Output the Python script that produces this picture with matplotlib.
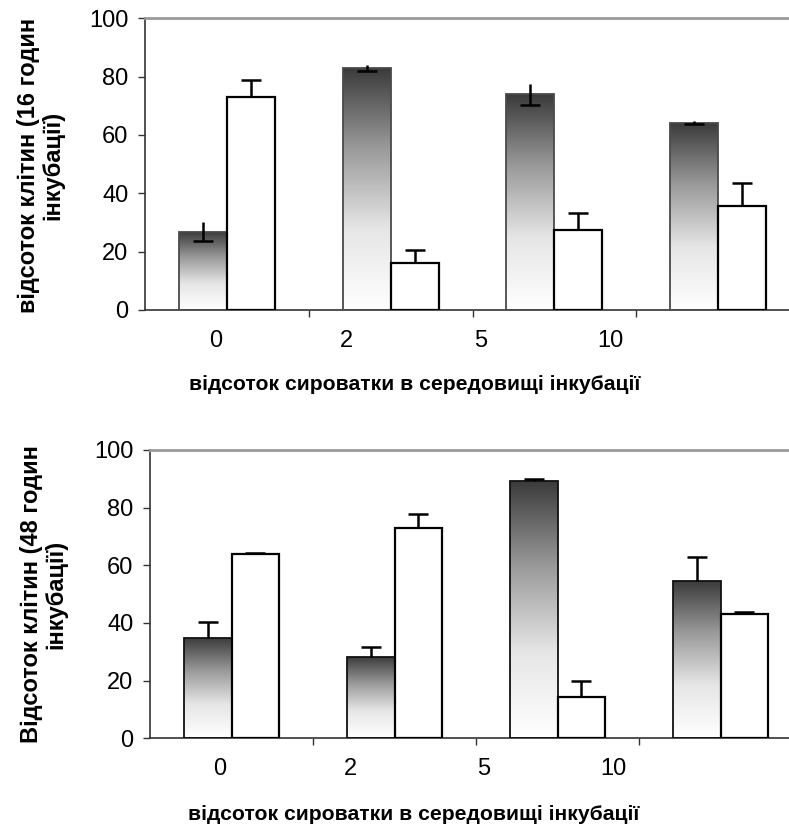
import numpy as np
import matplotlib
matplotlib.use("Agg")
import matplotlib.pyplot as plt
from matplotlib.colors import LinearSegmentedColormap

plt.rcParams['font.family'] = ['Liberation Sans', 'DejaVu Sans']

# ---- data ----
categories = ["0", "2", "5", "10"]
label_pos = [0.43, 1.23, 2.05, 2.84]   # where the category labels sit (group units)

top_dark = [26.8, 83.1, 73.9, 64.2]
top_dark_err = [3.2, 1.0, 3.6, 0.6]
top_white = [73.1, 16.2, 27.4, 35.8]
top_white_err = [5.8, 4.3, 5.7, 7.7]

bot_dark = [34.7, 28.3, 89.2, 54.6]
bot_dark_err = [5.7, 3.5, 0.6, 8.4]
bot_white = [63.8, 73.0, 14.2, 43.2]
bot_white_err = [0.6, 4.8, 5.7, 0.6]

ylabel_top = "відсоток клітин (16 годин\nінкубації)"
ylabel_bot = "Відсоток клітин (48 годин\nінкубації)"
xlabel = "відсоток сироватки в середовищі інкубації"
yticks = [0, 20, 40, 60, 80, 100]

W, H = 789, 825
fig = plt.figure(figsize=(W / 100, H / 100), dpi=100)

cmap = LinearSegmentedColormap.from_list("g", ["#ffffff", "#e6e6e6", "#9a9a9a", "#3a3a3a"])
grad = np.linspace(0, 1, 256).reshape(-1, 1)


def panel(rect, dark, dark_err, white, white_err, ylab, dark_edge, dark_cap_low,
          ylab_xy, xlab_xy):
    ax = fig.add_axes(rect)
    x = np.arange(len(categories)) + 0.5
    bw = 0.293
    xd = x - bw / 2
    xw = x + bw / 2
    bars = ax.bar(xd, dark, width=bw, facecolor="none", edgecolor=dark_edge,
                  linewidth=1.3, zorder=3)
    for b in bars:
        x0 = b.get_x()
        h = b.get_height()
        im = ax.imshow(grad, extent=[x0, x0 + b.get_width(), 0, h], origin="lower",
                       aspect="auto", cmap=cmap, zorder=2, interpolation="bilinear")
        im.set_clip_path(b)
    ax.bar(xw, white, width=bw, facecolor="white", edgecolor="black",
           linewidth=1.6, zorder=3)

    # error bars
    dark = np.array(dark); dark_err = np.array(dark_err)
    white = np.array(white); white_err = np.array(white_err)
    if dark_cap_low:
        ax.vlines(xd, dark - dark_err, dark + dark_err, color="black", lw=1.8, zorder=4)
        ax.plot(xd, dark - dark_err, ls="none", marker="_", ms=15, mew=1.8,
                color="black", zorder=4)
    else:
        ax.vlines(xd, dark, dark + dark_err, color="black", lw=1.8, zorder=4)
        ax.plot(xd, dark + dark_err, ls="none", marker="_", ms=15, mew=1.8,
                color="black", zorder=4)
    ax.vlines(xw, white, white + white_err, color="black", lw=1.8, zorder=4)
    ax.plot(xw, white + white_err, ls="none", marker="_", ms=15, mew=1.8,
            color="black", zorder=4)

    ax.set_xlim(0, len(categories))
    ax.set_ylim(0, 100)
    ax.set_yticks(yticks)
    ax.tick_params(axis="y", direction="out", length=5, width=1, pad=7,
                   labelsize=17, color="#333333")
    ax.set_xticks(label_pos)
    ax.set_xticklabels(categories)
    ax.tick_params(axis="x", which="major", length=0, pad=14.5, labelsize=17)
    ax.set_xticks([1, 2, 3], minor=True)
    ax.tick_params(axis="x", which="minor", direction="out", length=5, width=1,
                   color="#333333")
    for s in ["right"]:
        ax.spines[s].set_visible(False)
    ax.spines["top"].set_color("#9a9a9a")
    ax.spines["top"].set_linewidth(2)
    ax.spines["left"].set_color("#333333")
    ax.spines["left"].set_linewidth(1.2)
    ax.spines["bottom"].set_color("#333333")
    ax.spines["bottom"].set_linewidth(1.2)
    ax.set_ylabel(ylab, fontsize=17, fontweight="bold", va="center", linespacing=1.1)
    ax.yaxis.set_label_coords(*ylab_xy)
    ax.set_xlabel(xlabel, fontsize=15.2, fontweight="bold", va="center")
    ax.xaxis.set_label_coords(*xlab_xy)
    return ax


panel([145 / W, 1 - 310 / H, 655 / W, 291.7 / H], top_dark, top_dark_err, top_white,
      top_white_err, ylabel_top, "#4a4a4a", True, (-0.159, 0.497), (0.411, -0.257))
panel([150 / W, 1 - 738.3 / H, 652 / W, 288.3 / H], bot_dark, bot_dark_err, bot_white,
      bot_white_err, ylabel_bot, "#111111", False, (-0.163, 0.50), (0.405, -0.266))

fig.savefig("out.png", dpi=100)
